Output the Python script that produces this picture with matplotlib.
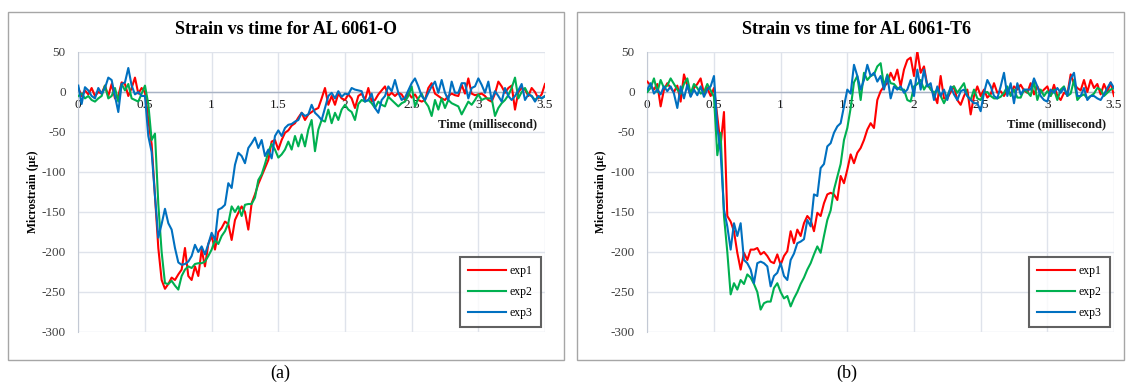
import numpy as np
import matplotlib
matplotlib.use("Agg")
import matplotlib.pyplot as plt
from matplotlib.patches import Rectangle

plt.rcParams["font.family"] = ["Liberation Serif", "DejaVu Serif"]
plt.rcParams["axes.unicode_minus"] = False

# time axis (millisecond), sampled every 0.025 ms
time_ms = np.linspace(0, 3.5, 141)

# AL 6061-O
o_exp1 = [5, -5, 2, -3, 5, -5, 0, -2, 8, -5, 10, -8, -5, 12, 10, -5, 5, 18, -2, 5,
          0, -35, -65, -130, -195, -235, -246, -240, -232, -235, -228, -222, -195, -230, -235, -218, -230, -197, -218, -190,
          -180, -197, -175, -170, -162, -165, -185, -160, -151, -143, -150, -172, -139, -128, -115, -105, -95, -85, -62, -60,
          -72, -60, -51, -48, -42, -39, -32, -26, -35, -28, -25, -22, -20, -8, 5, -16, -5, -16, -2, -8,
          -10, -3, -8, -20, -5, -2, -10, 5, -12, -10, -3, 2, 7, -5, -1, -5, -1, -3, -10, -1,
          -7, -3, -10, -12, -10, 5, 11, -2, -5, -8, -10, -5, -2, -4, -5, 9, -2, 17, -2, -4,
          -3, -2, -5, -10, -12, -2, 13, 7, -1, 5, 8, -22, 0, 5, 3, -5, 5, 0, -8, -3,
          10]
o_exp2 = [-5, -2, -8, -5, -10, -12, -8, -5, 8, -8, -5, 5, -12, 10, 2, 10, -8, -10, -12, -2,
          8, -15, -60, -52, -140, -200, -239, -240, -236, -242, -247, -230, -222, -218, -220, -215, -214, -214, -212, -205,
          -197, -185, -190, -180, -174, -164, -143, -150, -143, -155, -141, -140, -140, -132, -110, -103, -90, -75, -65, -72,
          -82, -78, -72, -62, -72, -55, -68, -53, -68, -47, -35, -74, -47, -35, -37, -22, -39, -26, -35, -22,
          -16, -22, -25, -35, -15, -10, -12, -10, -14, -20, -12, -16, -18, -6, -10, -14, -18, -14, -12, -5,
          7, -18, -8, -2, -12, -18, -30, -10, -22, -8, -20, -10, -14, -16, -18, -28, -20, -12, -16, -10,
          -3, -10, -8, -8, -8, -30, -20, -14, -10, -4, 5, 18, -8, 0, 5, -3, -5, -10, -6, -8,
          -5]
o_exp3 = [8, -15, 6, 2, -5, -8, 5, -2, 5, 18, 15, -5, -25, 10, 12, 30, 8, -3, 0, -5,
          -5, -55, -75, -130, -182, -165, -146, -164, -172, -195, -213, -216, -215, -212, -205, -191, -200, -193, -203, -190,
          -176, -185, -147, -145, -141, -114, -120, -91, -76, -80, -89, -70, -64, -57, -70, -60, -80, -72, -83, -55,
          -48, -55, -45, -41, -40, -37, -35, -26, -30, -28, -16, -26, -30, -35, -20, -5, -1, -8, 1, -6,
          -2, -3, 5, 3, 2, 1, -12, -10, -2, -20, -26, -10, -5, 7, 1, 15, -1, -10, -7, 2,
          11, 17, 7, -5, -10, -1, 7, 13, -1, 15, -1, -10, 13, -1, -1, 11, 11, -8, 5, 7,
          17, 9, -1, 13, -10, 1, -5, -12, 5, -5, -10, -5, 2, 10, -10, -3, -5, -12, -5, -8,
          -5]

# AL 6061-T6
t6_exp1 = [13, 8, 3, 10, -18, 3, 11, 5, 0, 8, -12, 22, 8, -5, 5, 10, 17, -2, 5, -5,
           5, -30, -66, -25, -155, -162, -174, -201, -222, -201, -210, -197, -197, -195, -203, -200, -205, -212, -214, -203,
           -216, -205, -199, -174, -189, -172, -180, -164, -155, -160, -174, -151, -155, -139, -128, -126, -128, -135, -105, -114,
           -97, -78, -89, -76, -70, -60, -47, -39, -45, -10, 1, 7, 11, 24, 15, 28, 7, 28, 40, 43,
           20, 51, 24, 32, 8, 5, -3, -14, 20, -8, -8, 0, 7, -10, -16, -5, 3, -28, -5, 7,
           -5, 3, -7, -3, 11, -1, 1, -5, 3, -3, 7, 3, 9, 2, -1, 11, -3, 7, -1, 3,
           7, -5, 9, -5, -10, -1, -3, 22, 10, 5, 2, 15, 0, 15, 5, 10, -3, 10, 0, 12,
           -5]
t6_exp2 = [0, 5, 17, 0, 15, 5, 8, 17, 10, 3, -2, 10, 17, -2, 10, 5, -2, 0, 10, 2,
           -6, -79, -51, -155, -200, -253, -239, -247, -235, -240, -228, -232, -240, -250, -272, -264, -262, -262, -245, -239,
           -250, -258, -255, -268, -258, -250, -240, -232, -222, -214, -203, -193, -201, -180, -160, -148, -122, -106, -90, -60,
           -45, -20, 12, 20, -10, 24, 15, 20, 22, 32, 36, 7, 22, 11, 10, 5, 3, 3, -10, -12,
           7, 10, 15, 3, 10, 3, -1, 3, -5, -14, -5, 5, 7, -1, 5, 11, -5, -10, 3, -8,
           -10, -1, 0, -5, -8, -8, -6, -1, 7, -5, 3, -7, -7, 3, 0, -5, 13, -10, 3, -5,
           1, -5, 3, -10, 3, 7, -5, -2, 15, -10, -5, -3, -8, -5, -2, 5, 3, -5, -1, 3,
           5]
t6_exp3 = [3, 11, -2, 3, -3, 7, 1, 7, -2, -20, 7, -8, 9, -6, 3, -4, 7, -6, 3, 7,
           20, -44, -76, -147, -168, -197, -164, -180, -164, -210, -214, -222, -239, -214, -212, -214, -218, -243, -230, -226,
           -214, -230, -235, -210, -202, -189, -187, -184, -160, -168, -128, -130, -95, -90, -68, -64, -51, -43, -39, -18,
           3, -2, 34, 20, 3, 15, 34, 20, 24, 13, 20, 3, 20, -8, 7, 3, 7, -1, 3, 15,
           -5, 28, 3, 28, 7, 11, -10, 7, -5, 3, -10, 7, -3, -10, 1, 3, -5, -10, -14, -14,
           -24, -1, 15, 7, -5, -8, 7, 24, -5, 11, -14, 11, -3, 3, 3, 3, 17, 7, -5, -10,
           -12, 3, -1, 5, -1, 5, -5, 17, 24, -5, -5, 5, -10, -5, -5, -8, -10, -3, 5, 12,
           5]

SERIES = ["exp1", "exp2", "exp3"]
COLORS = ["#ff0000", "#00b050", "#0070c0"]
GRID = "#dfe3eb"
ZERO = "#a9b3c5"

panels = [
    ("Strain vs time for AL 6061-O", "(a)", [o_exp1, o_exp2, o_exp3]),
    ("Strain vs time for AL 6061-T6", "(b)", [t6_exp1, t6_exp2, t6_exp3]),
]

W, H = 1128, 383
fig = plt.figure(figsize=(W / 100, H / 100), dpi=100)

# panel frames, axes boxes, text anchors (pixels)
frames = [(8, 12, 564, 360), (577, 12, 1124, 360)]
axes_px = [(78.3, 52, 545, 332), (647.3, 52, 1114, 332)]
title_x = [286, 856]
caption_x = [280, 847]
ylabel_x = [33, 601]

for k, (title, cap, data) in enumerate(panels):
    x0, y0, x1, y1 = frames[k]
    fig.patches.append(Rectangle((x0 / W, 1 - y1 / H), (x1 - x0) / W, (y1 - y0) / H,
                                 transform=fig.transFigure, fill=False,
                                 edgecolor="#a6a6a6", linewidth=1.0))
    l, t, r, b = axes_px[k]
    ax = fig.add_axes([l / W, 1 - b / H, (r - l) / W, (b - t) / H])
    for name, vals, c in zip(SERIES, data, COLORS):
        ax.plot(time_ms, vals, color=c, linewidth=1.5, label=name, zorder=3)
    ax.set_xlim(0, 3.5)
    ax.set_ylim(-300, 50)
    ax.set_xticks(np.arange(0, 3.51, 0.5))
    ax.set_xticklabels(["0", "0.5", "1", "1.5", "2", "2.5", "3", "3.5"])
    ax.set_yticks(np.arange(-300, 51, 50))
    ax.grid(True, color=GRID, linewidth=1.0, zorder=0)
    ax.set_axisbelow(True)
    ax.spines[["top", "right"]].set_visible(False)
    ax.spines["bottom"].set_position(("data", 0))
    ax.spines["bottom"].set_color(ZERO)
    ax.spines["bottom"].set_linewidth(1.0)
    ax.spines["bottom"].set_zorder(1)
    ax.spines["left"].set_color("#c3c9d4")
    ax.tick_params(axis="both", length=0, labelsize=9.5, colors="#1a1a1a")
    ax.tick_params(axis="x", pad=5)
    ax.tick_params(axis="y", pad=9, labelcolor="#404040")
    ax.text(3.44, -40, "Time (millisecond)", ha="right", va="center",
            fontsize=9, fontweight="bold", color="#1a1a1a")
    leg = ax.legend(loc="lower right", bbox_to_anchor=(0.991, 0.018),
                    borderaxespad=0, fancybox=False, fontsize=8.5,
                    handlelength=3.2, handletextpad=0.3, labelspacing=0.75,
                    borderpad=0.7)
    leg.get_frame().set_edgecolor("#3a3a3a")
    leg.get_frame().set_linewidth(1.5)
    fig.text(title_x[k] / W, 1 - 30 / H, title, ha="center", va="center",
             fontsize=13, fontweight="bold")
    fig.text(ylabel_x[k] / W, 1 - 192 / H, "Microstrain (με)", ha="center",
             va="center", rotation=90, fontsize=8.5, fontweight="bold")
    fig.text(caption_x[k] / W, 1 - 373 / H, cap, ha="center", va="center",
             fontsize=13)

fig.savefig("out.png", dpi=100)
